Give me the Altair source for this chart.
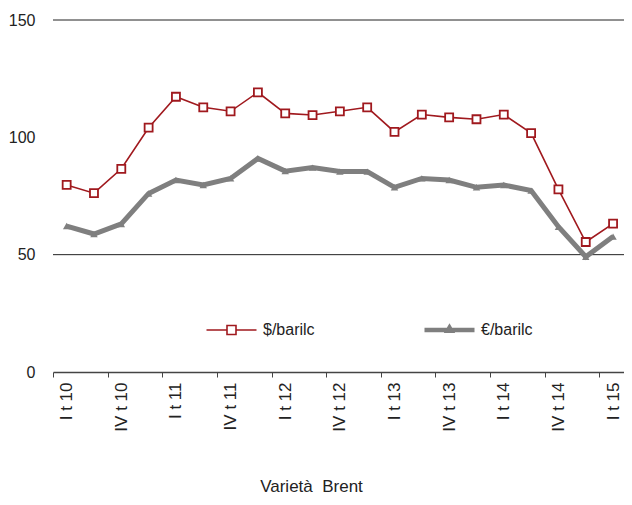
import json
import altair as alt
import pandas as pd

quarters = ["I t 10", "II t 10", "III t 10", "IV t 10",
            "I t 11", "II t 11", "III t 11", "IV t 11",
            "I t 12", "II t 12", "III t 12", "IV t 12",
            "I t 13", "II t 13", "III t 13", "IV t 13",
            "I t 14", "II t 14", "III t 14", "IV t 14",
            "I t 15"]
usd = [79.7, 76.2, 86.6, 104.1, 117.3, 112.8, 111.1, 119.2, 110.2, 109.5, 111.1,
       112.8, 102.3, 109.7, 108.5, 107.7, 109.7, 101.8, 77.8, 55.4, 63.2]
eur = [62.2, 58.8, 63.1, 76.1, 81.8, 79.7, 82.5, 91.0, 85.6, 87.1, 85.4,
       85.4, 78.7, 82.5, 81.8, 78.7, 79.7, 77.3, 61.9, 49.1, 57.7]
tick_labels = ["I t 10", "IV t 10", "I t 11", "IV t 11", "I t 12", "IV t 12",
               "I t 13", "IV t 13", "I t 14", "IV t 14", "I t 15"]
series = ["$/barilc", "€/barilc"]
gridlines = [50, 150]
y_ticks = [0, 50, 100, 150]
x_title = "Varietà\u00a0 Brent"

RED = "#A0191E"
GREY = "#7F7F7F"
TXT = "#222222"
FONT = "Liberation Sans"

rows = []
for i, q in enumerate(quarters):
    rows.append({"idx": i, "trim": q, "serie": series[0], "val": usd[i]})
    rows.append({"idx": i, "trim": q, "serie": series[1], "val": eur[i]})
df = pd.DataFrame(rows)
grid_df = pd.DataFrame({"val": gridlines})

W, H = 571, 352
dom = [-0.5, 20.4]
half_band = W / (dom[1] - dom[0]) / 2

x_enc = alt.X(
    "idx:Q",
    scale=alt.Scale(domain=dom, nice=False, zero=False),
    axis=alt.Axis(
        values=list(range(0, 21, 2)),
        labelExpr=json.dumps(tick_labels) + "[datum.value / 2]",
        labelAngle=270, labelAlign="right", labelBaseline="middle",
        labelPadding=5, tickSize=5, tickOffset=-half_band, labelOffset=half_band,
        tickColor="#444444", domainColor="#444444", domainWidth=1.5,
        labelFontSize=17, labelColor=TXT, labelFont=FONT,
        labelFlush=False, labelOverlap=False, grid=False,
        title=x_title, titleX=258, titleY=119, titleAlign="center",
        titleBaseline="alphabetic", titleAngle=0, titleFontSize=17,
        titleFontWeight="normal", titleColor=TXT, titleFont=FONT,
    ),
)
y_enc = alt.Y(
    "val:Q",
    scale=alt.Scale(domain=[0, 150], nice=False, zero=True),
    axis=alt.Axis(values=y_ticks, ticks=False, tickSize=0, domain=False, grid=False,
                  labelPadding=18, labelFontSize=16, labelColor=TXT, labelFont=FONT,
                  title=None),
)

base = alt.Chart(df)

grid = alt.Chart(grid_df).mark_rule(color="#222222", strokeWidth=1).encode(y=y_enc)

eur_line = base.transform_filter(alt.datum.serie == series[1]).mark_line(
    color=GREY, strokeWidth=5).encode(x=x_enc, y=y_enc)
eur_pts = base.transform_filter(alt.datum.serie == series[1]).mark_point(
    shape="triangle-up", size=55, filled=True, color=GREY, opacity=1).encode(x=x_enc, y=y_enc)
usd_line = base.transform_filter(alt.datum.serie == series[0]).mark_line(
    color=RED, strokeWidth=1.6).encode(x=x_enc, y=y_enc)
usd_pts = base.transform_filter(alt.datum.serie == series[0]).mark_point(
    shape="square", size=64, filled=True, fill="white", stroke=RED,
    strokeWidth=1.8, opacity=1).encode(x=x_enc, y=y_enc)

path_usd = "M-1,0H-0.18M0.18,0H1M-0.18,-0.18H0.18V0.18H-0.18Z"
path_eur = "M-1,0H1M-0.07,0.03L0,-0.09L0.07,0.03Z"

leg = alt.Legend(title=None)
legend_layer = base.transform_filter("false").mark_point(filled=True, opacity=1).encode(
    shape=alt.Shape("serie:N", scale=alt.Scale(domain=series, range=[path_usd, path_eur]), legend=leg),
    fill=alt.Fill("serie:N", scale=alt.Scale(domain=series, range=["white", GREY]), legend=leg),
    stroke=alt.Stroke("serie:N", scale=alt.Scale(domain=series, range=[RED, GREY]), legend=leg),
    strokeWidth=alt.StrokeWidth("serie:N", scale=alt.Scale(domain=series, range=[1.6, 4.5]), legend=leg),
)

chart = alt.layer(grid, eur_line, eur_pts, usd_line, usd_pts, legend_layer).properties(
    width=W, height=H,
    autosize=alt.AutoSizeParams(type="none"),
    padding={"left": 45, "top": 12, "right": 0, "bottom": 125},
).configure(font=FONT).configure_view(stroke=None).configure_legend(
    orient="none", legendX=151, legendY=282, direction="horizontal", columns=2,
    symbolSize=2500, labelFontSize=16, labelColor=TXT, labelFont=FONT,
    labelOffset=4, columnPadding=100, symbolOpacity=1,
)

chart.save("out.html", embed_options={"renderer": "svg", "actions": False})
